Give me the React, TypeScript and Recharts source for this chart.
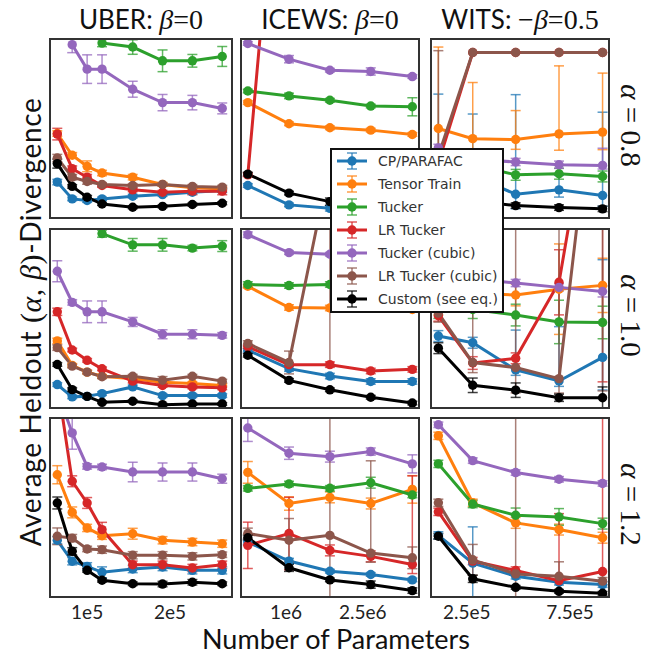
import React from 'react'
import { LineChart, Line, XAxis, YAxis, ErrorBar } from 'recharts'

type Val = number | null
type Err = number | [number, number] | null

const SERIES = ['CP/PARAFAC', 'Tensor Train', 'Tucker', 'LR Tucker', 'Tucker (cubic)', 'LR Tucker (cubic)', 'Custom (see eq.)']
const COLORS = ['#1f77b4', '#ff7f0e', '#2ca02c', '#d62728', '#9467bd', '#8c564b', '#000000']

// number of parameters per dataset
const UBER_X = [64000, 82000, 100000, 118000, 155000, 191000, 227000, 263000]
const ICEWS_X = [253000, 1058000, 1858000, 2657000, 3470000]
const WITS_X = [112500, 279000, 487000, 697000, 908000]

const UBER_TICKS = [100000, 200000]
const UBER_TICK_LABELS = ['1e5', '2e5']
const ICEWS_TICKS = [1000000, 2500000]
const ICEWS_TICK_LABELS = ['1e6', '2.5e6']
const WITS_TICKS = [250000, 750000]
const WITS_TICK_LABELS = ['2.5e5', '7.5e5']

// heldout divergence (relative units, panel-wise), one row per series
const U08_VAL: Val[][] = [
  [20.4, 11.1, 10.2, 11.1, 12.6, 13.5, 14.8, 15.7],
  [47.2, 35.2, 29.1, 25.4, 23.1, 19.1, 17.2, 16.7],
  [null, null, null, 97.2, 95.0, 87.4, 87.4, 89.8],
  [46.9, 27.8, 23.1, 18.5, 16.1, 14.8, 15.4, 15.4],
  [null, 96.3, 82.8, 82.8, 71.7, 64.3, 64.3, 61.1],
  [33.7, 23.1, 20.7, 19.1, 18.5, 19.1, 18.0, 17.6],
  [30.6, 18.0, 12.0, 8.3, 6.5, 7.0, 8.0, 8.7],
]
const U08_ERR: Err[][] = [
  [1.5, 1, 1, 1, 1, 1, 1, 1],
  [1.5, 1.5, 3, 1.5, 1.5, 1, 1, 1],
  [null, null, null, 2, 4, 6, 3.5, 5.5],
  [3.2, 1.5, 1.5, 1, 1, 1, 2, 2],
  [null, 4.4, 7.9, 7.9, 4.4, 4.5, 4, 3],
  [2, 1.5, 1.5, 1, 1, 1, 1, 1],
  [2.5, 1, 1, 0.8, 0.8, 0.8, 0.8, 0.8],
]

const I08_VAL: Val[][] = [
  [18.5, 7.8, 5.9, 3.2, 2.0],
  [64.3, 52.6, 50.4, 49.1, 46.7],
  [70.7, 68.0, 65.6, 62.4, 62.0],
  [24.4, 280, 275, 270, 265],
  [97.0, 88.3, 82.2, 81.5, 78.7],
  [140, 135, 130, 128, 126],
  [24.8, 14.3, 9.6, 6.0, 3.5],
]
const I08_ERR: Err[][] = [
  [1, 1, 1.5, 1, 1],
  [1, 1, 1, 1, 1],
  [1, 1.5, 1, 1, 5],
  [1, 0, 0, 0, 0],
  [1, 2, 1, 2, 1],
  [0, 0, 0, 0, 0],
  [1, 1, 2, 1, 1],
]

const W08_VAL: Val[][] = [
  [30, 24, 13.7, 16.1, 13],
  [50, 44.4, 43.9, 47, 48],
  [33, 30, 24.4, 25, 23.5],
  [31, 92, 92, 92, 92],
  [39.3, 33, 31.5, 30, 29.6],
  [35, 92, 92, 92, 92],
  [22, 10, 7.4, 6.3, 5.6],
]
const W08_ERR: Err[][] = [
  [[10, 39], [8, 34], [8, 55], [4, 8], [6, 46]],
  [[12, 45], [10, 31], [5.4, 16], [9, 37.6], [9.7, 32.6]],
  [2, 8, 3, 3, 3],
  [0, 0, 0, 0, 0],
  [2, 2, 2, 2, [2, 9.5]],
  [[10, 58], 0, 0, 0, 0],
  [1.5, 1.5, 1.5, 1.5, 1.5],
]

const U10_VAL: Val[][] = [
  [13.5, 6.7, 7.0, 8.5, 12.2, 7.4, 7.4, 7.4],
  [37.6, 24.1, 20.4, 18.1, 16.7, 14.8, 14.1, 13.0],
  [null, null, null, 96.9, 90.7, 90.7, 88.9, 90.0],
  [53.7, 32.6, 26.9, 22.2, 15.4, 13.0, 12.2, 11.7],
  [76.1, 58.9, 53.7, 53.7, 48.1, 41.3, 41.3, 40.7],
  [33.9, 23.7, 20.4, 17.8, 18.1, 15.9, 18.1, 15.4],
  [24.6, 10.7, 7.0, 3.7, 4.3, 2.4, 2.8, 2.8],
]
const U10_ERR: Err[][] = [
  [1, 1, 1, 1, 1, 1, 1, 1],
  [1.5, 1, 1, 1, 1, 1, 1, 1],
  [null, null, null, 2, 3.5, 3.5, 1.5, 3],
  [2, 1, 1, 1, 1, 1, 1, 1],
  [5.8, 1.5, 6, 6, 2.5, 2.5, 2.5, 1.5],
  [1.5, 1, 1, 1, 1, 2, 1, 1],
  [1, 1, 1, 0.7, 0.7, 0.7, 0.7, 0.7],
]

const I10_VAL: Val[][] = [
  [32.5, 22.3, 18.2, 15.2, 15.2],
  [67.8, 56.1, 55.8, 56.0, 55.0],
  [68.8, 68.2, 68.8, 68.0, 67.0],
  [34.4, 24.5, 24.5, 21.0, 21.9],
  [96.3, 86.4, 85.5, 83.6, 81.8],
  [36.2, 25.7, 136, 140, 130],
  [29.7, 15.8, 10.6, 6.5, 3.3],
]
const I10_ERR: Err[][] = [
  [1, 1.5, 1.5, 1.5, 1.5],
  [1, 1.5, 1.5, 1, 1],
  [1.5, 1.5, 1.5, 1, 1],
  [1, 1, 1.5, 1.5, 1.5],
  [1.5, 1, 1, 1, 1],
  [1.5, 6.3, 112, 0, 0],
  [1, 1, 1, 1, 1],
]

const W10_VAL: Val[][] = [
  [40.3, 36.6, 21.6, 15.5, 28.5],
  [60.0, 64.0, 63.0, 66.2, 68.3],
  [55.0, 55.0, 51.9, 48.1, 47.8],
  [51.5, 25.4, 28.0, 70.0, 210],
  [74.0, 72.0, 69.6, 67.2, 64.9],
  [53.0, 25.7, 22.9, 16.8, 222],
  [33.6, 13.1, 10.4, 6.2, 6.2],
]
const W10_ERR: Err[][] = [
  [3, 3, [3, 22], [3, 30], [18, 54]],
  [8, 8, 6, 25, 15],
  [5, 5, 6, 12, 9],
  [3, 3.5, 3, 18, 195],
  [2, 2, 2, 2, 3],
  [[5, 60], [5.6, 80], [14, 80], [8, 90], [212, 0]],
  [3, 4, 4, 2, 6],
]

const U12_VAL: Val[][] = [
  [31.9, 20.3, 17.5, 14.2, 16.0, 17.1, 15.3, 15.3],
  [68.1, 47.3, 38.7, 34.4, 35.5, 31.9, 30.9, 30.0],
  [150, 145, 140, 135, 125, 120, 118, 116],
  [119.6, 64.5, 52.5, 37.8, 18.4, 18.4, 16.6, 18.4],
  [114, 91.2, 72.7, 72.4, 69.6, 69.6, 69.6, 65.9],
  [34.1, 33.1, 27.1, 26.7, 23.6, 23.6, 23.0, 23.9],
  [52.5, 25.8, 15.3, 9.8, 7.9, 7.7, 8.7, 7.9],
]
const U12_ERR: Err[][] = [
  [2, 2, 2, 3, 2, 2, 2, 2],
  [5, 3, 2, 2, 3, 2, 2, 2],
  [0, 0, 0, 0, 0, 0, 0, 0],
  [0, 3, 3, 4, 2, 2, 2, 2],
  [0, 9, 1.5, 1.5, 5.4, 5, 5, 2.5],
  [4.6, 2, 1.5, 2, 2, 2, 2, 1.5],
  [3.3, 2, 1, 1, 1, 1.5, 1.5, 1],
]

const I12_VAL: Val[][] = [
  [30.9, 20.4, 14.8, 13.0, 10.0],
  [69.4, 52.2, 55.6, 52.2, 60.0],
  [60.6, 63.0, 60.6, 63.7, 56.9],
  [29.1, 35.6, 26.3, 23.0, 18.5],
  [93.9, 80.0, 78.1, 80.9, 74.1],
  [35.6, 31.9, 34.6, 24.8, 22.2],
  [33.3, 16.7, 10.0, 7.4, 4.1],
]
const I12_ERR: Err[][] = [
  [1.5, 1.5, 1, 1, 1],
  [6, 3.7, 3, 3, 7.6],
  [1.5, 1.5, 1.5, 3, 1.5],
  [12.8, 20, 3, 3, [5, 49]],
  [7.4, 3.4, 3, 2, 5],
  [3, 12, 80, [5, 51], 6],
  [1.5, 2, 1, 2, 1.5],
]

const W12_VAL: Val[][] = [
  [34.6, 19.3, 12.0, 8.7, 7.4],
  [89.6, 52.6, 41.5, 37.8, 33.3],
  [74.1, 51.9, 45.7, 44.8, 41.1],
  [47.6, 20.4, 15.2, 9.6, 14.6],
  [95.7, 75.9, 69.3, 65.6, 63.3],
  [52.6, 21.1, 13.3, 12.0, 9.3],
  [34.1, 10.6, 5.9, 3.7, 2.6],
]
const W12_ERR: Err[][] = [
  [2, 20, 1.5, 1.5, 1.5],
  [2, 2, 3, 3, 3],
  [2, 2, 4, 4.6, 3],
  [2, 2, 2, 37, 100],
  [1.5, 1.5, 1.5, 1.5, 1.5],
  [2, 8.5, 90, 8, 2],
  [1.5, 2, 1, 1, 1],
]

const SANS = 'Lato, "DejaVu Sans", sans-serif'
const SERIF = '"Liberation Serif", "DejaVu Serif", serif'

const COLS = [
  { left: 49, width: 184, xs: UBER_X, domain: [54000, 276000], ticks: UBER_TICKS, labels: UBER_TICK_LABELS },
  { left: 240, width: 180, xs: ICEWS_X, domain: [100000, 3620000], ticks: ICEWS_TICKS, labels: ICEWS_TICK_LABELS },
  { left: 430, width: 180, xs: WITS_X, domain: [72000, 944000], ticks: WITS_TICKS, labels: WITS_TICK_LABELS },
]
const ROWS = [
  { top: 38, height: 181 },
  { top: 228, height: 181 },
  { top: 417, height: 181 },
]
const GRID = [
  [[U08_VAL, U08_ERR], [I08_VAL, I08_ERR], [W08_VAL, W08_ERR]],
  [[U10_VAL, U10_ERR], [I10_VAL, I10_ERR], [W10_VAL, W10_ERR]],
  [[U12_VAL, U12_ERR], [I12_VAL, I12_ERR], [W12_VAL, W12_ERR]],
] as [Val[][], Err[][]][][]

function Panel({ col, row, values, errors }: any) {
  const rows = col.xs.map((x: number, i: number) => {
    const r: any = { x }
    values.forEach((s: Val[], k: number) => {
      r['s' + k] = s[i]
      r['e' + k] = errors[k][i]
    })
    return r
  })
  return (
    <div style={{ position: 'absolute', left: col.left, top: row.top, width: col.width, height: row.height, overflow: 'hidden' }}>
      <LineChart width={col.width} height={row.height} data={rows} margin={{ top: 0, right: 0, bottom: 0, left: 0 }}>
        <XAxis dataKey="x" type="number" domain={col.domain} allowDataOverflow hide />
        <YAxis hide domain={[0, 100]} allowDataOverflow />
        {SERIES.map((name, k) => (
          <Line
            key={name}
            dataKey={'s' + k}
            name={name}
            stroke={COLORS[k]}
            strokeWidth={3}
            dot={{ r: 4.7, fill: COLORS[k], stroke: COLORS[k], strokeWidth: 0 }}
            activeDot={false}
            isAnimationActive={false}
          >
            <ErrorBar dataKey={'e' + k} width={5} strokeWidth={1.5} stroke={COLORS[k]} strokeOpacity={0.75} direction="y" isAnimationActive={false} />
          </Line>
        ))}
      </LineChart>
      <div
        style={{
          position: 'absolute', left: 0, top: 0, width: col.width, height: row.height,
          border: '2.5px solid #333', boxSizing: 'border-box', pointerEvents: 'none',
        }}
      />
    </div>
  )
}

// tick labels under a column, drawn by a Recharts x axis on the same domain
function AxisStrip({ col, top }: any) {
  const rows = col.xs.map((x: number) => ({ x }))
  return (
    <div style={{ position: 'absolute', left: col.left, top }}>
      <LineChart width={col.width} height={36} data={rows} margin={{ top: 0, right: 0, bottom: 0, left: 0 }}>
        <XAxis
          dataKey="x"
          type="number"
          domain={col.domain}
          allowDataOverflow
          ticks={col.ticks}
          tickFormatter={(v: number) => col.labels[col.ticks.indexOf(v)]}
          axisLine={false}
          tickLine={false}
          height={34}
          interval={0}
          tick={{ fontSize: 19, fill: '#222', fontFamily: SANS }}
        />
        <YAxis hide domain={[0, 100]} />
      </LineChart>
    </div>
  )
}

function Title({ x, name, neg, val }: { x: number; name: string; neg?: boolean; val: string }) {
  return (
    <text x={x} y={29} textAnchor="middle" fontSize={26} fill="#111">
      <tspan fontFamily={SANS}>{name}</tspan>
      <tspan fontFamily={SERIF} fontSize={28}>{neg ? '\u2212' : ''}</tspan>
      <tspan fontFamily={SERIF} fontStyle="italic" fontSize={28}>β</tspan>
      <tspan fontFamily={SERIF} fontSize={28}>{'=' + val}</tspan>
    </text>
  )
}

const ALPHAS = ['0.8', '1.0', '1.2']

export default function App() {
  const last = ROWS[2]
  return (
    <div style={{ position: 'absolute', left: 0, top: 0, width: 650, height: 658, background: '#fff', overflow: 'hidden' }}>
      {ROWS.map((row, ri) =>
        COLS.map((col, ci) => (
          <Panel key={ri + '-' + ci} col={col} row={row} values={GRID[ri][ci][0]} errors={GRID[ri][ci][1]} />
        ))
      )}
      {COLS.map((col, ci) => (
        <AxisStrip key={ci} col={col} top={last.top + last.height - 2} />
      ))}
      <svg width={650} height={658} style={{ position: 'absolute', left: 0, top: 0, pointerEvents: 'none' }}>
        <Title x={141} name="UBER: " val="0" />
        <Title x={330} name="ICEWS: " val="0" />
        <Title x={520} name="WITS: " neg val="0.5" />
        {ROWS.map((row, i) => (
          <text
            key={i}
            transform={`translate(631,${row.top + row.height / 2 - 3}) rotate(90)`}
            textAnchor="middle"
            dominantBaseline="central"
            fontSize={29}
            fontFamily={SERIF}
            fill="#111"
          >
            <tspan fontStyle="italic">α</tspan>
            <tspan>{' = ' + ALPHAS[i]}</tspan>
          </text>
        ))}
        <text
          transform="translate(30,322) rotate(-90)"
          textAnchor="middle"
          dominantBaseline="central"
          fontSize={28}
          letterSpacing={0.6}
          fill="#111"
        >
          <tspan fontFamily={SANS}>Average Heldout </tspan>
          <tspan fontFamily={SERIF} fontSize={30}>(</tspan>
          <tspan fontFamily={SERIF} fontStyle="italic" fontSize={30}>α</tspan>
          <tspan fontFamily={SERIF} fontSize={30}>, </tspan>
          <tspan fontFamily={SERIF} fontStyle="italic" fontSize={30}>β</tspan>
          <tspan fontFamily={SERIF} fontSize={30}>)</tspan>
          <tspan fontFamily={SANS}>-Divergence</tspan>
        </text>
        <text x={336} y={649} textAnchor="middle" fontSize={27} fontFamily={SANS} fill="#111">
          Number of Parameters
        </text>
        <g>
          <rect x={331} y={149} width={172} height={163} fill="#fff" stroke="#111" strokeWidth={2} />
          {SERIES.map((name, i) => {
            const y = 161 + i * 23
            return (
              <g key={name}>
                <line x1={337} x2={367} y1={y} y2={y} stroke={COLORS[i]} strokeWidth={3} />
                <line x1={352} x2={352} y1={y - 8} y2={y + 8} stroke={COLORS[i]} strokeWidth={1.5} strokeOpacity={0.75} />
                <line x1={347} x2={357} y1={y - 8} y2={y - 8} stroke={COLORS[i]} strokeWidth={1.5} strokeOpacity={0.75} />
                <line x1={347} x2={357} y1={y + 8} y2={y + 8} stroke={COLORS[i]} strokeWidth={1.5} strokeOpacity={0.75} />
                <circle cx={352} cy={y} r={4.7} fill={COLORS[i]} />
                <text x={378} y={y} dominantBaseline="central" fontSize={14} fontFamily='"DejaVu Sans", sans-serif' fill="#333">
                  {name}
                </text>
              </g>
            )
          })}
        </g>
      </svg>
    </div>
  )
}
